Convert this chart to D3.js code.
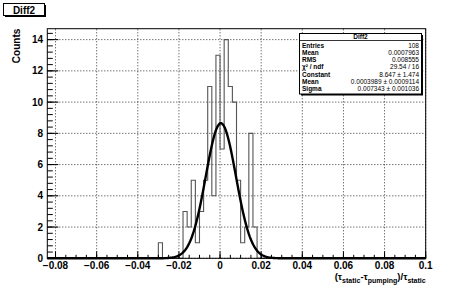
<!DOCTYPE html>
<html><head><meta charset="utf-8">
<script src="https://cdn.jsdelivr.net/npm/d3@7"></script>
<style>
html,body{margin:0;padding:0;background:#fff;}
svg{display:block;font-family:"Liberation Sans",Arial,Helvetica,sans-serif;}
</style></head>
<body>
<svg id="c" width="473" height="287"></svg>
<script>
// ---- data ----
const histTitle = "Diff2";
const yTitle = "Counts";
const xRange = [-0.084, 0.1];
const yRange = [0, 14.7];
const binWidth = 0.002;
const binLowEdges = [-0.030, -0.018, -0.016, -0.014, -0.012, -0.010, -0.008, -0.006, -0.004, -0.002, 0.000, 0.002, 0.004, 0.006, 0.008, 0.010, 0.012, 0.014, 0.016];
const binCounts   = [1, 3, 2, 5, 1, 3, 5, 11, 4, 13, 7, 14, 11, 10, 5, 1, 2, 8, 2];
const xTickValues = [-0.08, -0.06, -0.04, -0.02, 0, 0.02, 0.04, 0.06, 0.08, 0.1];
const xTickLabels = ["\u22120.08", "\u22120.06", "\u22120.04", "\u22120.02", "0", "0.02", "0.04", "0.06", "0.08", "0.1"];
const yTickValues = [0, 2, 4, 6, 8, 10, 12, 14];
const yTickLabels = ["0", "2", "4", "6", "8", "10", "12", "14"];
const fitConstant = 8.647, fitMean = 0.0003989, fitSigma = 0.007343;
const statLabels = ["Entries", "Mean", "RMS", "\u03c7\u00b2 / ndf", "Constant", "Mean", "Sigma"];
const statValues = ["108", "0.0007963", "0.008555", "29.54 / 16", "8.647 \u00b1 1.474", "0.0003989 \u00b1 0.0009114", "0.007343 \u00b1 0.001036"];

// ---- layout ----
const W = 473, H = 287;
const L = 47.3, R = 425.7, T = 28.7, B = 258.3;
const svg = d3.select("#c");
const x = d3.scaleLinear().domain(xRange).range([L, R]);
const y = d3.scaleLinear().domain(yRange).range([B, T]);

// grid
const g = svg.append("g");
g.selectAll(".gx").data(xTickValues).enter().append("line")
  .attr("x1", d => x(d)).attr("x2", d => x(d)).attr("y1", B).attr("y2", T)
  .attr("stroke", "#000").attr("stroke-width", 0.8).attr("stroke-dasharray", "1,2");
g.selectAll(".gy").data(yTickValues).enter().append("line")
  .attr("x1", L).attr("x2", R).attr("y1", d => y(d)).attr("y2", d => y(d))
  .attr("stroke", "#000").attr("stroke-width", 0.8).attr("stroke-dasharray", "1,2");

// histogram step outline
const nb = Math.round((xRange[1] - xRange[0]) / binWidth);
const full = new Array(nb).fill(0);
binLowEdges.forEach((e, i) => { full[Math.round((e - xRange[0]) / binWidth)] = binCounts[i]; });
const pts = [[x(xRange[0]), y(0)]];
for (let i = 0; i < nb; i++) {
  const lo = xRange[0] + i * binWidth, hi = lo + binWidth;
  pts.push([x(lo), y(full[i])]);
  pts.push([x(hi), y(full[i])]);
}
pts.push([x(xRange[1]), y(0)]);
svg.append("path").attr("d", d3.line()(pts)).attr("fill", "none")
  .attr("stroke", "#555").attr("stroke-width", 1.1);

// fit curve
const fx = d3.range(0, 401).map(i => xRange[0] + (xRange[1] - xRange[0]) * i / 400);
const fitLine = d3.line().x(d => x(d)).y(d => y(fitConstant * Math.exp(-0.5 * Math.pow((d - fitMean) / fitSigma, 2)))).curve(d3.curveLinear);
svg.append("path").attr("d", fitLine(fx)).attr("fill", "none").attr("stroke", "#000").attr("stroke-width", 2.4);

// frame
svg.append("rect").attr("x", L).attr("y", T).attr("width", R - L).attr("height", B - T)
  .attr("fill", "none").attr("stroke", "#000").attr("stroke-width", 1);

// x ticks
const xMinor = d3.range(-0.08, 0.1001, 0.005);
svg.selectAll(".xm").data(xMinor).enter().append("line")
  .attr("x1", d => x(d)).attr("x2", d => x(d)).attr("y1", B).attr("y2", B - 3.5)
  .attr("stroke", "#000").attr("stroke-width", 1);
svg.selectAll(".xM").data(xTickValues).enter().append("line")
  .attr("x1", d => x(d)).attr("x2", d => x(d)).attr("y1", B).attr("y2", B - 7)
  .attr("stroke", "#000").attr("stroke-width", 1);
svg.selectAll(".xl").data(xTickValues).enter().append("text")
  .attr("x", d => x(d)).attr("y", 269).attr("text-anchor", "middle")
  .attr("font-size", 10).attr("font-weight", "bold").text((d, i) => xTickLabels[i]);

// y ticks
const yMinor = d3.range(0, 14.71, 0.4);
svg.selectAll(".ym").data(yMinor).enter().append("line")
  .attr("x1", L).attr("x2", L + 5.5).attr("y1", d => y(d)).attr("y2", d => y(d))
  .attr("stroke", "#000").attr("stroke-width", 1);
svg.selectAll(".yM").data(yTickValues).enter().append("line")
  .attr("x1", L).attr("x2", L + 11).attr("y1", d => y(d)).attr("y2", d => y(d))
  .attr("stroke", "#000").attr("stroke-width", 1);
svg.selectAll(".yl").data(yTickValues).enter().append("text")
  .attr("x", 43).attr("y", d => y(d) + 3.5).attr("text-anchor", "end")
  .attr("font-size", 10).attr("font-weight", "bold").text((d, i) => yTickLabels[i]);

// y title
svg.append("text").attr("transform", "translate(20," + T + ") rotate(-90)")
  .attr("text-anchor", "end").attr("font-size", 10).attr("font-weight", "bold").text(yTitle);

// x title
const xt = svg.append("text").attr("x", R).attr("y", 280).attr("text-anchor", "end")
  .attr("font-size", 9.5).attr("font-weight", "bold");
xt.append("tspan").text("(\u03c4");
xt.append("tspan").attr("font-size", 7).attr("dy", 2.5).text("static");
xt.append("tspan").attr("dy", -2.5).text("-\u03c4");
xt.append("tspan").attr("font-size", 7).attr("dy", 2.5).text("pumping");
xt.append("tspan").attr("dy", -2.5).text(")/\u03c4");
xt.append("tspan").attr("font-size", 7).attr("dy", 2.5).text("static");

// title box
svg.append("rect").attr("x", 5).attr("y", 5).attr("width", 41).attr("height", 12).attr("fill", "#000");
svg.append("rect").attr("x", 3.5).attr("y", 3.5).attr("width", 41).attr("height", 12)
  .attr("fill", "#fff").attr("stroke", "#000").attr("stroke-width", 1);
svg.append("text").attr("x", 24).attr("y", 13.5).attr("text-anchor", "middle")
  .attr("font-size", 10).attr("font-weight", "bold").text(histTitle);

// stats box
const sx0 = 299.5, sx1 = 421.5, sy0 = 33.5, sy1 = 94;
svg.append("rect").attr("x", sx0 + 1.5).attr("y", sy0 + 1.5).attr("width", sx1 - sx0).attr("height", sy1 - sy0).attr("fill", "#000");
svg.append("rect").attr("x", sx0).attr("y", sy0).attr("width", sx1 - sx0).attr("height", sy1 - sy0)
  .attr("fill", "#fff").attr("stroke", "#000").attr("stroke-width", 1);
svg.append("line").attr("x1", sx0).attr("x2", sx1).attr("y1", 40.5).attr("y2", 40.5).attr("stroke", "#000").attr("stroke-width", 0.8);
svg.append("text").attr("x", (sx0 + sx1) / 2).attr("y", 39).attr("text-anchor", "middle")
  .attr("font-size", 6.5).attr("font-weight", "bold").text(histTitle);
const rowY = d3.scaleLinear().domain([0, statLabels.length - 1]).range([47.5, 91]);
statLabels.forEach((lab, i) => {
  svg.append("text").attr("x", 302).attr("y", rowY(i)).attr("font-size", 6.5).attr("font-weight", "bold").text(lab);
  svg.append("text").attr("x", 419).attr("y", rowY(i)).attr("text-anchor", "end").attr("font-size", 6.5).text(statValues[i]);
});
</script>
</body></html>
